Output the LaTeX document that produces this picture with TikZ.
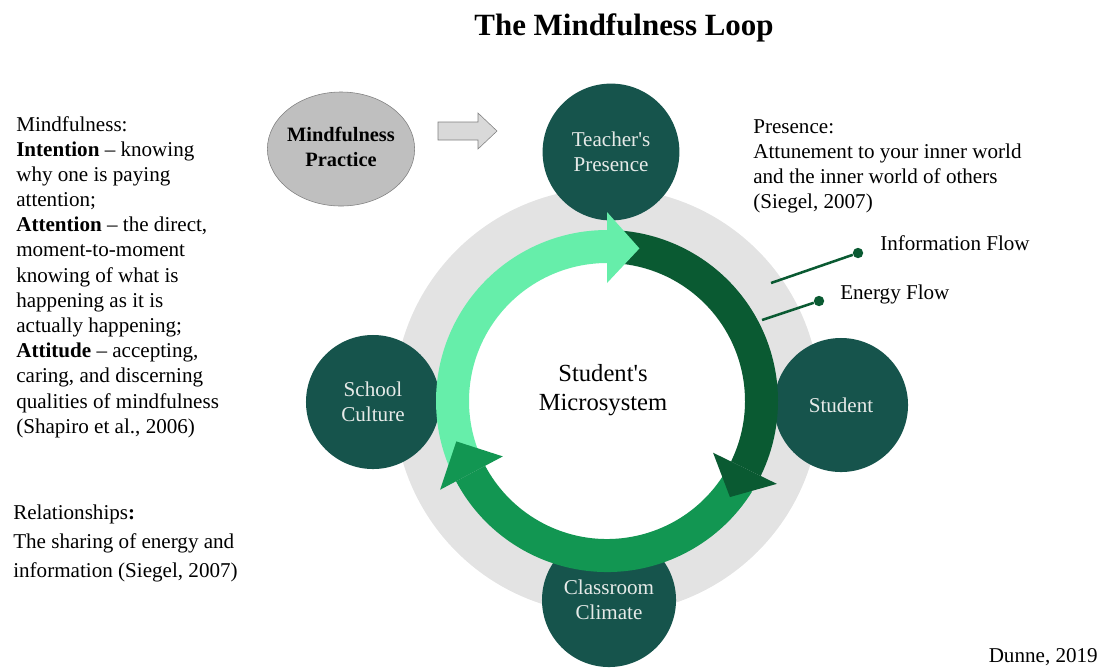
\documentclass[tikz,border=0pt]{standalone}
\usepackage{fontspec}
\setmainfont{Liberation Serif}
\usepackage{xcolor}
\usetikzlibrary{positioning,calc,shapes.geometric}
\definecolor{hubteal}{RGB}{22,84,76}
\definecolor{hubtext}{RGB}{230,234,232}
\definecolor{ringgray}{RGB}{227,227,227}
\definecolor{practicegray}{RGB}{191,191,191}
\definecolor{arrowgray}{RGB}{217,217,217}
\definecolor{lightflow}{RGB}{102,238,170}
\definecolor{midflow}{RGB}{18,150,82}
\definecolor{darkflow}{RGB}{10,90,50}

\begin{document}
\begin{tikzpicture}[
  x=0.025cm, y=-0.025cm,
  hub/.style={circle, fill=hubteal, text=hubtext, minimum size=3.35cm, inner sep=0pt, align=center, font=\fontsize{15}{17.8}\selectfont},
  note/.style={anchor=north west, inner sep=0pt, align=left, font=\fontsize{15}{17.9}\selectfont},
  flowlabel/.style={anchor=base west, inner sep=0pt, font=\fontsize{15}{17.5}\selectfont},
  flowdot/.style={circle, fill=darkflow, minimum size=0.26cm, inner sep=0pt},
  flowline/.style={darkflow, line width=1.8pt}
]
\useasboundingbox (0,0) rectangle (1102,667);
\coordinate (loop) at (607,401);

\node[font=\fontsize{22}{26}\selectfont\bfseries] (title) at (624,28) {The Mindfulness Loop};

% backdrop ring
\fill[ringgray] (loop) circle[radius=213];

\node[ellipse, fill=practicegray, draw=gray, minimum width=3.68cm, minimum height=2.85cm, inner sep=0pt,
  font=\fontsize{14.5}{17.8}\selectfont\bfseries] (practice) at (341,149)
  {\makebox[0pt]{\begin{tabular}{@{}c@{}}Mindfulness\\Practice\end{tabular}}};
\draw[fill=arrowgray, draw=gray] (438,122) -- (478,122) -- (478,113) -- (497,131) -- (478,149) -- (478,140) -- (438,140) -- cycle;

\node[hub, minimum size=3.42cm] (teacher) at (611,152) {Teacher\textquotesingle s\\Presence};
\node[hub] (student) at (841,405) {Student};
\node[hub] (school) at (373,402) {School\\Culture};
\node[hub] (climate) at (609,600) {Classroom\\Climate};

\fill[white] (loop) circle[radius=139];

% flow arrows round the loop
\begin{scope}[shift={(loop)}]
  \foreach \from/\to/\col in {156/270/lightflow, 32/152/midflow, 275/386/darkflow}
    \fill[\col] (\from:138) arc[start angle=\from, end angle=\to, radius=138]
      -- (\to:171) arc[start angle=\to, end angle=\from, radius=171] -- cycle;
  \foreach \base/\tip/\col in {270/282/lightflow, 152/165/midflow, 386/398/darkflow}
    \fill[\col] (\base:118) -- (\tip:156) -- (\base:189) -- cycle;
\end{scope}

\node[font=\fontsize{17.5}{20.5}\selectfont, align=center] (micro) at (603,390) {Student\textquotesingle s\\Microsystem};

\node[flowdot] (infodot) at (858,253) {};
\node[flowdot] (energydot) at (819,301) {};
\coordinate (infoend) at (771,283);
\coordinate (energyend) at (762,320);
\draw[flowline] (infoend) -- (infodot);
\draw[flowline] (energyend) -- (energydot);
\node[flowlabel] (infolabel) at (880,250) {Information Flow};
\node[flowlabel] (energylabel) at (840,299) {Energy Flow};

\node[note] (mindnote) at (16,116) {Mindfulness:\\\textbf{Intention} -- knowing\\why one is paying\\attention;\\\textbf{Attention} -- the direct,\\moment-to-moment\\knowing of what is\\happening as it is\\actually happening;\\\textbf{Attitude} -- accepting,\\caring, and discerning\\qualities of mindfulness\\(Shapiro et al., 2006)};

\node[note] (presnote) at (753,119) {Presence:\\Attunement to your inner world\\and the inner world of others\\(Siegel, 2007)};

\node[note, font=\fontsize{15}{20.5}\selectfont] (relnote) at (13,505) {Relationships\textbf{:}\\The sharing of energy and\\information (Siegel, 2007)};

\node[anchor=base east, inner sep=0pt, font=\fontsize{15}{17.5}\selectfont] (credit) at (1098,662) {Dunne, 2019};
\end{tikzpicture}
\end{document}
